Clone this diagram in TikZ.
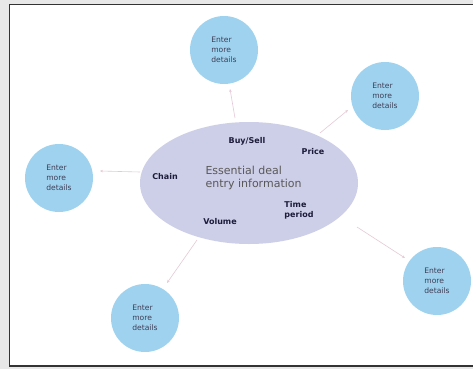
\documentclass[tikz,border=0pt]{standalone}
\usepackage{fontspec}
\setmainfont{DejaVu Sans}
\usetikzlibrary{arrows.meta,shapes.geometric}
\definecolor{bubble}{HTML}{9FD2EE}
\definecolor{oval}{HTML}{CDCEE7}
\definecolor{lab}{HTML}{1C1C3A}
\definecolor{link}{HTML}{E6C9D6}
\begin{document}
\begin{tikzpicture}[x=1pt,y=-1pt,
  bub/.style={circle,fill=bubble,minimum size=68pt,inner sep=0pt,align=left,
    font=\fontsize{7.6}{10}\selectfont,text=lab!85},
  tag/.style={font=\bfseries\fontsize{8}{10}\selectfont,text=lab,align=left},
  conn/.style={draw=link,line width=0.6pt,-{Stealth[length=3pt,width=2.5pt]}}]
\useasboundingbox (0,0) rectangle (473,369);
\fill[gray!18] (0,0) rectangle (473,369);
\draw[fill=white,draw=black!80,line width=1.5pt] (9.5,4.5) rectangle (485,366);
\node[ellipse,fill=oval,minimum width=218pt,minimum height=122pt,inner sep=0pt] (core) at (249,183) {};
\node[align=left,font=\fontsize{11}{13}\selectfont,text=black!65,anchor=west] (main) at (202,178) {Essential deal\\entry information};
\node[tag] (buy) at (247,141) {Buy/Sell};
\node[tag] (price) at (313,152) {Price};
\node[tag] (chain) at (165,177) {Chain};
\node[tag] (time) at (299,210) {Time\\period};
\node[tag] (vol) at (220,222) {Volume};
\node[bub] (c1) at (224,50) {Enter\\more\\details};
\node[bub] (c2) at (385,96) {Enter\\more\\details};
\node[bub] (c3) at (59,178) {Enter\\more\\details};
\node[bub] (c4) at (145,318) {Enter\\more\\details};
\node[bub] (c5) at (437,281) {Enter\\more\\details};
\coordinate (s1) at (235,118);
\coordinate (s2) at (320,133);
\coordinate (s3) at (140,172);
\coordinate (s4) at (197,240);
\coordinate (s5) at (357,227);
\coordinate (e1) at (230,89);
\coordinate (e2) at (348,110);
\coordinate (e3) at (100,171);
\coordinate (e4) at (167,283);
\coordinate (e5) at (405,258);
\draw[conn] (s1) -- (e1);
\draw[conn] (s2) -- (e2);
\draw[conn] (s3) -- (e3);
\draw[conn] (s4) -- (e4);
\draw[conn] (s5) -- (e5);
\end{tikzpicture}
\end{document}
